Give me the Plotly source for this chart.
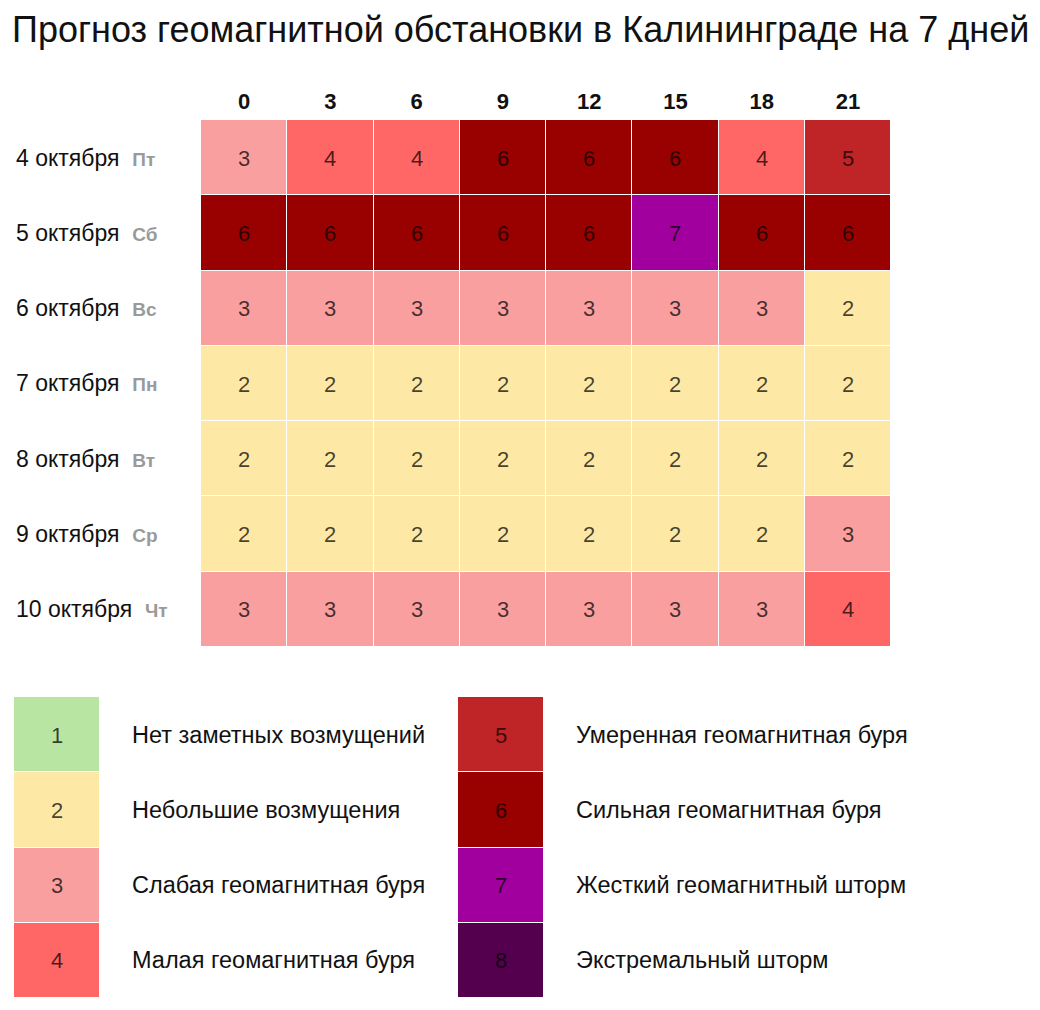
import plotly.graph_objects as go

# the page body adds an 8px margin, so the figure starts at page (8, 8)
OFF = 8
W, H = 1040 - OFF, 1010 - OFF

hours = [0, 3, 6, 9, 12, 15, 18, 21]
days = ["4 октября", "5 октября", "6 октября", "7 октября",
        "8 октября", "9 октября", "10 октября"]
weekdays = ["Пт", "Сб", "Вс", "Пн", "Вт", "Ср", "Чт"]
kp = [
    [3, 4, 4, 6, 6, 6, 4, 5],
    [6, 6, 6, 6, 6, 7, 6, 6],
    [3, 3, 3, 3, 3, 3, 3, 2],
    [2, 2, 2, 2, 2, 2, 2, 2],
    [2, 2, 2, 2, 2, 2, 2, 2],
    [2, 2, 2, 2, 2, 2, 2, 3],
    [3, 3, 3, 3, 3, 3, 3, 4],
]

levels = [1, 2, 3, 4, 5, 6, 7, 8]
level_names = [
    "Нет заметных возмущений",
    "Небольшие возмущения",
    "Слабая геомагнитная буря",
    "Малая геомагнитная буря",
    "Умеренная геомагнитная буря",
    "Сильная геомагнитная буря",
    "Жесткий геомагнитный шторм",
    "Экстремальный шторм",
]
level_colors = ["#b8e6a2", "#fde9a5", "#fa9f9f", "#ff6666",
                "#bf2427", "#990000", "#a1009f", "#55004f"]

# discrete colorscale for 1..8
cs = []
for i, c in enumerate(level_colors):
    cs.append([i / 8, c])
    cs.append([(i + 1) / 8, c])

FONT = "Arial, Liberation Sans, sans-serif"
txt_color = "rgba(0,0,0,0.72)"


def px_x(v):
    return (v - OFF) / W


def px_y(v):
    return 1 - (v - OFF) / H


fig = go.Figure()

# main grid
fig.add_trace(go.Heatmap(
    z=kp, x=[str(h) for h in hours], y=days,
    zmin=0.5, zmax=8.5, colorscale=cs, showscale=False,
    xgap=1, ygap=1,
    texttemplate="%{z}", textfont=dict(size=22, color=txt_color, family=FONT),
    hoverinfo="skip",
))

# legend blocks, rows keyed by level name
for lv, names, xa, ya in [(levels[:4], level_names[:4], "x2", "y2"),
                          (levels[4:], level_names[4:], "x3", "y3")]:
    fig.add_trace(go.Heatmap(
        z=[[v] for v in lv], x=["a"], y=names,
        zmin=0.5, zmax=8.5, colorscale=cs, showscale=False, ygap=1,
        texttemplate="%{z}", textfont=dict(size=22, color=txt_color, family=FONT),
        xaxis=xa, yaxis=ya, hoverinfo="skip",
    ))

annotations = []
for d, wd in zip(days, weekdays):
    annotations.append(dict(
        x=px_x(14), xref="paper", y=d, yref="y", xanchor="left", yanchor="middle",
        text=f"{d}  <b><span style='color:#9a9a9a;font-size:19px'>{wd}</span></b>",
        showarrow=False, font=dict(size=23, color="#111", family=FONT),
    ))
for name in level_names[:4]:
    annotations.append(dict(
        x=px_x(130), xref="paper", y=name, yref="y2", xanchor="left", yanchor="middle",
        text=name, showarrow=False, font=dict(size=23.5, color="#111", family=FONT),
    ))
for name in level_names[4:]:
    annotations.append(dict(
        x=px_x(574), xref="paper", y=name, yref="y3", xanchor="left", yanchor="middle",
        text=name, showarrow=False, font=dict(size=23.5, color="#111", family=FONT),
    ))

noax = dict(showgrid=False, zeroline=False, showticklabels=False, fixedrange=True)

fig.update_layout(
    width=W, height=H,
    margin=dict(l=0, r=0, t=0, b=0),
    plot_bgcolor="white", paper_bgcolor="white",
    font=dict(family=FONT),
    title=dict(text="Прогноз геомагнитной обстановки в Калининграде на 7 дней",
               x=px_x(12), xanchor="left", y=px_y(29), yanchor="middle",
               font=dict(size=36, color="#111", family=FONT)),
    xaxis=dict(domain=[px_x(201), px_x(891)], side="top", showgrid=False,
               zeroline=False, ticks="", ticklabelstandoff=6,
               tickvals=[str(h) for h in hours],
               ticktext=[f"<b>{h}</b>" for h in hours],
               tickfont=dict(size=22, color="#111", family=FONT)),
    yaxis=dict(domain=[px_y(647), px_y(120)], autorange="reversed",
               showgrid=False, zeroline=False, showticklabels=False),
    xaxis2=dict(domain=[px_x(14), px_x(99)], anchor="y2", **noax),
    yaxis2=dict(domain=[px_y(998), px_y(697)], anchor="x2", type="category",
                autorange="reversed", **noax),
    xaxis3=dict(domain=[px_x(458), px_x(543)], anchor="y3", **noax),
    yaxis3=dict(domain=[px_y(998), px_y(697)], anchor="x3", type="category",
                autorange="reversed", **noax),
    annotations=annotations,
)

fig.write_html("out.html")
